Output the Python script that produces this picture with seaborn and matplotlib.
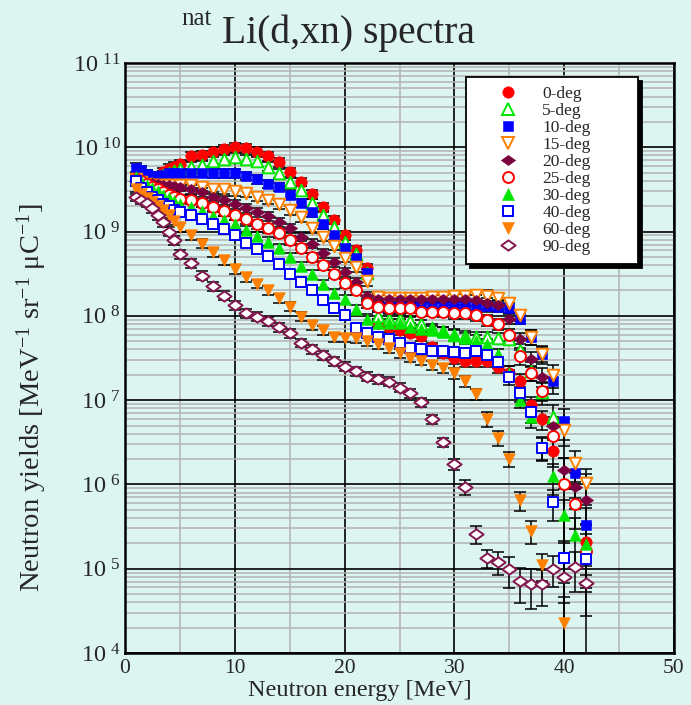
import numpy as np
import pandas as pd
import matplotlib
matplotlib.use("Agg")
import matplotlib.pyplot as plt
import seaborn as sns
from matplotlib.lines import Line2D
from matplotlib.path import Path
from matplotlib.ticker import LogLocator, MultipleLocator, FuncFormatter, NullFormatter

nan = np.nan

# ---------------- data ----------------
energy_low = [1.0, 1.5, 2.0, 2.5, 3.0, 3.5, 4.0, 4.5, 5.0]
energy_high = [6, 7, 8, 9, 10, 11, 12, 13, 14, 15, 16, 17, 18, 19, 20, 21, 22, 23, 24,
               25, 26, 27, 28, 29, 30, 31, 32, 33, 34, 35, 36, 37, 38, 39, 40, 41, 42]
energy_tail = [30, 31, 32, 33, 34, 35, 36, 37, 38, 39, 40, 41, 42]

angles = ["0-deg", "5-deg", "10-deg", "15-deg", "20-deg", "25-deg", "30-deg", "40-deg", "60-deg", "90-deg"]

yield_0deg = [3.98e9, 3.55e9, 3.31e9, 3.63e9, 4.37e9, 5.1e9, 5.6e9, 5.9e9, 6.3e9,
              7.8e9, 8.1e9, 8.9e9, 9.5e9, 1.0e10, 9.8e9, 8.9e9, 7.9e9, 6.6e9, 5.1e9, 3.9e9, 2.8e9,
              1.95e9, 1.38e9, 9.1e8, 6.0e8, 3.7e8, 8.3e7, 7.4e7, 6.8e7, 6.3e7, 5.75e7, 4.3e7, 3.6e7,
              3.2e7, 2.9e7, 2.9e7, 2.9e7, 2.5e7, 2.1e7, 1.7e7, 8.7e6, 5.9e6, 2.5e6, nan, nan, 2.1e5]
yield_5deg = [4.2e9, 3.8e9, 3.6e9, 3.8e9, 4.2e9, 4.7e9, 5.0e9, 5.2e9, 5.5e9,
              5.9e9, 6.2e9, 6.8e9, 7.2e9, 7.6e9, 7.2e9, 6.8e9, 5.9e9, 4.9e9, 3.9e9, 3.1e9, 2.2e9,
              1.58e9, 1.12e9, 7.6e8, 5.4e8, 3.2e8, 1.0e8, 9.3e7, 9.1e7, 8.7e7, 7.9e7, 7.1e7, 6.6e7,
              6.0e7, 5.75e7, 5.6e7, 5.6e7, 5.5e7, 5.25e7, 3.9e7, 2.24e7, 1.26e7, 6.3e6, nan, nan, nan]
yield_10deg = [5.75e9, 5.4e9, 4.8e9, 4.6e9, 4.6e9, 4.7e9, 4.9e9, 5.0e9, 5.0e9,
               5.0e9, 5.0e9, 4.9e9, 4.9e9, 4.9e9, 4.6e9, 4.2e9, 3.7e9, 3.4e9, 2.75e9, 2.2e9, 1.7e9,
               1.23e9, 9.1e8, 6.3e8, 4.8e8, 3.2e8, 1.28e8, 1.28e8, 1.29e8, 1.29e8, 1.3e8, 1.3e8, 1.31e8,
               1.31e8, 1.31e8, 1.31e8, 1.3e8, 1.29e8, 1.23e8, 9.3e7, 5.6e7, 3.55e7, 1.7e7, 5.6e6, 1.38e6, 3.3e5]
yield_15deg = [4.2e9, 3.9e9, 3.7e9, 3.6e9, 3.6e9, 3.6e9, 3.6e9, 3.6e9, 3.6e9,
               3.55e9, 3.4e9, 3.16e9, 3.16e9, 3.0e9, 2.9e9, 2.6e9, 2.4e9, 2.1e9, 1.78e9, 1.48e9, 1.1e9,
               8.7e8, 6.8e8, 4.9e8, 3.8e8, 2.6e8, 1.66e8, 1.62e8, 1.62e8, 1.62e8, 1.62e8, 1.66e8, 1.66e8,
               1.7e8, 1.7e8, 1.78e8, 1.74e8, 1.62e8, 1.41e8, 1.02e8, 5.6e7, 3.55e7, 2.0e7, 4.4e6, 1.78e6, 1.05e6]
yield_20deg = [4.0e9, 3.9e9, 3.8e9, 3.8e9, 3.7e9, 3.6e9, 3.55e9, 3.5e9, 3.4e9,
               3.2e9, 2.95e9, 2.6e9, 2.35e9, 2.1e9, 1.9e9, 1.7e9, 1.51e9, 1.29e9, 1.1e9, 8.7e8, 7.2e8,
               5.5e8, 4.3e8, 3.3e8, 2.5e8, 1.7e8, 1.58e8, 1.57e8, 1.57e8, 1.58e8, 1.58e8, 1.6e8, 1.6e8,
               1.58e8, 1.58e8, 1.55e8, 1.41e8, 1.35e8, 9.3e7, 5.25e7, 3.1e7, 1.9e7, 4.9e6, 1.48e6, 9.3e5, 6.6e5]
yield_25deg = [4.2e9, 4.0e9, 3.7e9, 3.4e9, 3.16e9, 2.95e9, 2.75e9, 2.6e9, 2.45e9,
               2.4e9, 2.2e9, 1.95e9, 1.74e9, 1.58e9, 1.41e9, 1.23e9, 1.1e9, 9.5e8, 7.9e8, 6.3e8, 5.0e8,
               4.0e8, 3.16e8, 2.45e8, 2.0e8, 1.41e8, 1.29e8, 1.23e8, 1.23e8, 1.23e8, 1.12e8, 1.12e8, 1.1e8,
               1.07e8, 1.07e8, 1.02e8, 8.9e7, 7.9e7, 6.0e7, 3.3e7, 2.1e7, 1.29e7, 3.8e6, 1.02e6, 5.9e5, 1.62e5]
yield_30deg = [4.4e9, 4.0e9, 3.6e9, 3.3e9, 3.0e9, 2.75e9, 2.5e9, 2.3e9, 2.1e9,
               1.95e9, 1.74e9, 1.55e9, 1.38e9, 1.23e9, 1.05e9, 8.9e8, 7.6e8, 6.3e8, 5.0e8, 3.9e8, 3.1e8,
               2.4e8, 1.86e8, 1.58e8, 1.2e8, 9.3e7, 8.3e7, 8.3e7, 8.3e7, 7.4e7, 6.9e7, 6.8e7, 6.5e7,
               5.9e7, 5.5e7, 5.1e7, 4.6e7, 3.55e7, 2.1e7, 1.0e7, 6.3e6, 2.8e6, 1.26e6, 4.3e5, 2.5e5, 1.95e5]
yield_40deg = [4.0e9, 3.3e9, 2.95e9, 2.6e9, 2.35e9, 2.15e9, 2.0e9, 1.82e9, 1.7e9,
               1.58e9, 1.41e9, 1.23e9, 1.07e9, 9.1e8, 7.4e8, 6.2e8, 5.1e8, 4.1e8, 3.16e8, 2.5e8, 2.05e8,
               1.55e8, 1.23e8, 1.02e8, 7.2e7, 6.3e7, 5.6e7, 5.25e7, 4.7e7, 4.2e7, 4.0e7, 3.8e7, 3.8e7,
               3.7e7, 3.6e7, 3.8e7, 3.4e7, 2.8e7, 1.9e7, 1.2e7, 7.2e6, 2.7e6, 6.2e5, 1.35e5, nan, 1.32e5]
yield_60deg = [3.16e9, 2.8e9, 2.5e9, 2.24e9, 2.0e9, 1.78e9, 1.58e9, 1.35e9, 1.12e9,
               9.1e8, 7.2e8, 5.75e8, 4.6e8, 3.6e8, 2.9e8, 2.4e8, 2.0e8, 1.62e8, 1.29e8, 9.8e7, 7.8e7,
               6.8e7, 5.6e7, 5.5e7, 5.4e7, 5.0e7, 4.6e7, 4.1e7, 3.6e7, 3.2e7, 2.95e7, 2.6e7, 2.4e7,
               2.1e7, 1.7e7, 1.17e7, 6.0e6, 3.55e6, 2.0e6, 6.5e5, 2.8e5, 1.1e5, nan, 2.3e4, nan, nan]
yield_90deg = [2.6e9, 2.4e9, 2.2e9, 1.9e9, 1.58e9, 1.29e9, 1.0e9, 7.9e8, 5.4e8,
               4.2e8, 3.0e8, 2.24e8, 1.74e8, 1.35e8, 1.07e8, 9.8e7, 8.7e7, 7.4e7, 6.2e7, 4.8e7, 4.0e7,
               3.4e7, 2.9e7, 2.5e7, 2.2e7, 1.9e7, 1.78e7, 1.66e7, 1.41e7, 1.2e7, 9.5e6, 6.0e6, 3.2e6,
               1.74e6, 9.3e5, 2.6e5, 1.35e5, 1.2e5, 9.8e4, 7.1e4, 6.6e4, 6.6e4, 1.0e5, 7.9e4, 1.05e5, 6.8e4]

# relative uncertainty below 30 MeV, and for the 30-42 MeV tail
rel_err_base = 0.12
err_tail_0deg = [.15, .15, .15, .15, .15, .2, .2, .25, .25, .35, nan, nan, .6]
err_tail_5deg = [.15, .15, .15, .15, .15, .15, .2, .25, .3, .4, nan, nan, nan]
err_tail_10deg = [.15, .15, .15, .15, .15, .15, .15, .2, .25, .3, .4, .5, .6]
err_tail_15deg = [.15, .15, .15, .15, .15, .15, .15, .2, .2, .3, .35, .4, .45]
err_tail_20deg = [.15, .15, .15, .15, .15, .15, .2, .2, .25, .3, .4, .45, 1.0]
err_tail_25deg = [.15, .15, .15, .15, .15, .15, .2, .2, .25, .35, 1.0, .5, .6]
err_tail_30deg = [.15, .15, .15, .15, .15, .2, .2, .25, .3, .4, .5, .6, .7]
err_tail_40deg = [.15, .15, .15, .15, .15, .2, .2, .25, .3, .4, .5, nan, .6]
err_tail_60deg = [.15, .15, .15, .2, .2, .2, .25, .3, .35, nan, 1.0, nan, nan]
err_tail_90deg = [.15, .2, .25, .25, .3, .4, .45, .5, .45, .4, .5, .5, .6]

yields = [yield_0deg, yield_5deg, yield_10deg, yield_15deg, yield_20deg,
          yield_25deg, yield_30deg, yield_40deg, yield_60deg, yield_90deg]
tails = [err_tail_0deg, err_tail_5deg, err_tail_10deg, err_tail_15deg, err_tail_20deg,
         err_tail_25deg, err_tail_30deg, err_tail_40deg, err_tail_60deg, err_tail_90deg]

# ---------------- styles ----------------
RED, GREEN, BLUE, ORANGE, MAROON = "#ff0000", "#00e600", "#0000ff", "#ff8000", "#7a0040"
diamond = Path([(-1, 0), (0, 0.72), (1, 0), (0, -0.72), (-1, 0)], closed=True)
styles = {
    "0-deg":  dict(color=RED,    marker="o", filled=True,  s=68),
    "5-deg":  dict(color=GREEN,  marker="^", filled=False, s=70),
    "10-deg": dict(color=BLUE,   marker="s", filled=True,  s=58),
    "15-deg": dict(color=ORANGE, marker="v", filled=False, s=70),
    "20-deg": dict(color=MAROON, marker=diamond, filled=True, s=105),
    "25-deg": dict(color=RED,    marker="o", filled=False, s=62),
    "30-deg": dict(color=GREEN,  marker="^", filled=True,  s=70),
    "40-deg": dict(color=BLUE,   marker="s", filled=False, s=55),
    "60-deg": dict(color=ORANGE, marker="v", filled=True,  s=70),
    "90-deg": dict(color="#82164d", marker=diamond, filled=False, s=105),
}

energies = energy_low + energy_high
rows = []
for a, yv, tl in zip(angles, yields, tails):
    tail_map = dict(zip(energy_tail, tl))
    for e, v in zip(energies, yv):
        f = tail_map.get(e, rel_err_base)
        rows.append((a, e, v, f))
df = pd.DataFrame(rows, columns=["angle", "energy", "yield", "rel_err"])

# ---------------- figure ----------------
sns.set_style("white")
BG = "#dcf5f0"
plt.rcParams["font.family"] = ["Liberation Serif", "DejaVu Serif"]
plt.rcParams["mathtext.default"] = "regular"

fig = plt.figure(figsize=(6.91, 7.05), dpi=100, facecolor=BG)
ax = fig.add_axes([125 / 691, 1 - 653 / 705, 549 / 691, 590 / 705])
ax.set_facecolor(BG)
ax.set_yscale("log")

for a in angles:
    d = df[df["angle"] == a]
    err = d["yield"] * d["rel_err"]
    ax.errorbar(d["energy"], d["yield"], yerr=[err, err], fmt="none", ecolor="black",
                elinewidth=1.1, capsize=4, capthick=1.1, zorder=2)

for i, a in enumerate(angles):
    d = df[df["angle"] == a]
    st = styles[a]
    if st["filled"]:
        sns.scatterplot(data=d, x="energy", y="yield", ax=ax, marker=st["marker"], s=st["s"],
                        color=st["color"], edgecolor=st["color"], linewidth=0.4,
                        legend=False, zorder=3 + i)
    else:
        sns.scatterplot(data=d, x="energy", y="yield", ax=ax, marker=st["marker"], s=st["s"],
                        color="white", edgecolor=st["color"], linewidth=1.4,
                        legend=False, zorder=3 + i)

ax.set_xlim(0, 50)
ax.set_ylim(1e4, 1e11)
ax.xaxis.set_major_locator(MultipleLocator(10))
ax.xaxis.set_minor_locator(MultipleLocator(5))
ax.yaxis.set_major_locator(LogLocator(base=10, numticks=20))
ax.yaxis.set_minor_locator(LogLocator(base=10, subs=np.arange(2, 10), numticks=20))
ax.yaxis.set_minor_formatter(NullFormatter())
ax.yaxis.set_major_formatter(FuncFormatter(lambda v, p: r"10$^{\ %d}$" % int(round(np.log10(v)))))
ax.xaxis.set_major_formatter(FuncFormatter(lambda v, p: "%d" % v))

ax.grid(which="minor", color="#b3b3b3", linewidth=1.1)
ax.grid(which="major", color="black", linewidth=1.2)
ax.set_axisbelow(True)
ax.tick_params(which="both", length=0)
ax.tick_params(axis="x", labelsize=15.5, pad=4)
ax.tick_params(axis="y", labelsize=17.5, pad=3)
for sp in ax.spines.values():
    sp.set_visible(True)
    sp.set_color("black")
    sp.set_linewidth(1.8)

ax.set_xlabel("Neutron energy [MeV]", fontsize=17.5)
ax.xaxis.set_label_coords(0.428, -0.0455)
ax.set_ylabel(r"Neutron yields [MeV$^{-1}$ sr$^{-1}$ μC$^{-1}$]", fontsize=20.5)
ax.yaxis.set_label_coords(-0.138, 0.432)

fig.text(181 / 691, 1 - 25 / 705, "nat", fontsize=18, va="baseline", ha="left")
fig.text(222 / 691, 1 - 43 / 705, "Li(d,xn) spectra", fontsize=28.5, va="baseline", ha="left")

handles = []
for a in angles:
    st = styles[a]
    handles.append(Line2D([], [], linestyle="none", marker=st["marker"],
                          markersize=np.sqrt(st["s"]),
                          markerfacecolor=st["color"] if st["filled"] else "white",
                          markeredgecolor=st["color"],
                          markeredgewidth=0.4 if st["filled"] else 1.4))
leg = ax.legend(handles, angles, loc="upper left",
                bbox_to_anchor=(0.621, 0.3, 0.313, 0.676), mode="expand", borderaxespad=0,
                fontsize=12.5, labelspacing=0.05, borderpad=0.5, handlelength=3.8,
                handletextpad=0.1, frameon=True, fancybox=False, framealpha=1,
                edgecolor="black", facecolor="white",
                shadow={"color": "black", "alpha": 1.0, "ox": 3, "oy": -3})
leg.get_frame().set_linewidth(1.3)
leg.set_zorder(20)

fig.savefig("out.png", dpi=100, facecolor=BG)
